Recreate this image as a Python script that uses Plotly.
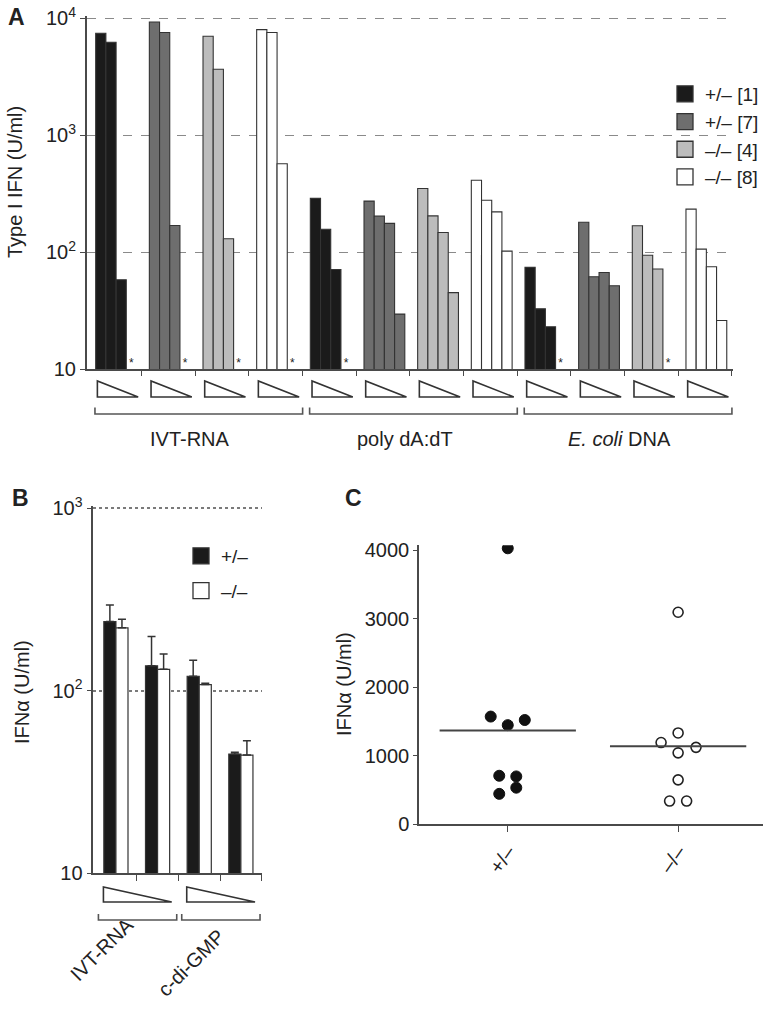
import plotly.graph_objects as go
import numpy as np

# ---------------- DATA ----------------
# Panel A: Type I IFN (U/ml); 3 stimuli x 4 mice, 4 decreasing doses each; None = not detected (*)
a_stimuli = ["IVT-RNA", "poly dA:dT", "<i>E. coli</i> DNA"]
a_genotypes = ["+/\u2013 [1]", "+/\u2013 [7]", "\u2013/\u2013 [4]", "\u2013/\u2013 [8]"]
a_ivt_rna = [[7450, 6240, 58, None], [9300, 7550, 169, None], [7020, 3660, 130, None], [8000, 7550, 569, None]]
a_poly_dadt = [[288, 157, 71, None], [273, 203, 176, 29.5], [350, 204, 147, 45], [412, 278, 221, 102]]
a_ecoli_dna = [[74, 32.7, 23, None], [180, 61.5, 67, 51.5], [168, 94, 71.6, None], [233, 106, 75, 26]]
a_yticks = [10, 100, 1000, 10000]
a_yticktext = ["10", "10<sup>2</sup>", "10<sup>3</sup>", "10<sup>4</sup>"]

# Panel B: IFNa (U/ml), 2 stimuli x 2 doses
b_stimuli = ["IVT-RNA", "c-di-GMP"]
b_genotypes = ["+/\u2013", "\u2013/\u2013"]
b_het = [239, 137, 120, 45]
b_het_err = [56, 61, 27, 1]
b_ko = [221, 131, 108, 44.4]
b_ko_err = [25, 28, 2, 8.8]
b_yticks = [10, 100, 1000]
b_yticktext = ["10", "10<sup>2</sup>", "10<sup>3</sup>"]

# Panel C: IFNa (U/ml) per mouse
c_groups = ["+/\u2013", "\u2013/\u2013"]
c_het = [4025, 1571, 1446, 1521, 708, 698, 444, 534]
c_ko = [3092, 1332, 1192, 1122, 1042, 648, 339, 339]
c_yticks = [0, 1000, 2000, 3000, 4000]

# ---------------- STYLE / LAYOUT ----------------
W, H = 772, 1014
FONT = "Liberation Sans, Arial, Helvetica, sans-serif"
INK = "#333333"
AXC = "#4a4a4a"
a_colors = ["#1b1b1b", "#6e6e6e", "#bcbcbc", "#ffffff"]
dose_off = [-0.2615, -0.0714, 0.1186, 0.3088]   # bar centre offsets inside a group
a_barw = 0.19
het_off = [0, -0.1, 0, 0.1, -0.05, 0.05, -0.05, 0.05]
ko_off = [0, 0, -0.1, 0.105, 0, 0, -0.05, 0.05]

def px(x):
    return x / W

def py(y):
    return 1 - y / H

fig = go.Figure()

# ---- Panel A bars ----
a_all = [a_ivt_rna, a_poly_dadt, a_ecoli_dna]
star_x = []
for g, name in enumerate(a_genotypes):
    xs, ys = [], []
    for s in range(len(a_stimuli)):
        grp = s * 4 + g
        for d, v in enumerate(a_all[s][g]):
            xs.append(grp + dose_off[d])
            ys.append(v)
            if v is None:
                star_x.append(grp + dose_off[d])
    fig.add_trace(go.Bar(
        x=xs, y=ys, width=a_barw, name=name, xaxis="x", yaxis="y",
        marker=dict(color=a_colors[g], line=dict(color=INK, width=1.1)),
        showlegend=False))
    fig.add_trace(go.Scatter(
        x=[None], y=[None], mode="markers", name=name, xaxis="x", yaxis="y",
        marker=dict(symbol="square", size=18, color=a_colors[g], line=dict(color=INK, width=1.3)),
        legend="legend"))
fig.add_trace(go.Scatter(
    x=star_x, y=[11.0] * len(star_x), mode="text", text=["*"] * len(star_x),
    textfont=dict(size=12, color="#222", family=FONT), xaxis="x", yaxis="y",
    showlegend=False, hoverinfo="skip"))

# ---- Panel B bars ----
b_x = list(range(len(b_stimuli) * 2))
for vals, errs, col, name in [(b_het, b_het_err, "#1b1b1b", b_genotypes[0]),
                               (b_ko, b_ko_err, "#ffffff", b_genotypes[1])]:
    fig.add_trace(go.Bar(
        x=b_x, y=vals, name=name, xaxis="x2", yaxis="y2",
        marker=dict(color=col, line=dict(color=INK, width=1.2)),
        error_y=dict(type="data", symmetric=False, array=errs, arrayminus=[0] * len(errs),
                     color=INK, thickness=1.5, width=4),
        showlegend=False))
    fig.add_trace(go.Scatter(
        x=[None], y=[None], mode="markers", name=name, xaxis="x2", yaxis="y2",
        legendgroup=name,
        marker=dict(symbol="square", size=18, color=col, line=dict(color=INK, width=1.3)),
        legend="legend2"))

# ---- Panel C dots ----
fig.add_trace(go.Scatter(
    x=[0 + o for o in het_off], y=c_het, mode="markers", xaxis="x3", yaxis="y3",
    marker=dict(size=11, color="#111111", line=dict(color="#111111", width=1)),
    showlegend=False))
fig.add_trace(go.Scatter(
    x=[1 + o for o in ko_off], y=c_ko, mode="markers", xaxis="x3", yaxis="y3",
    marker=dict(size=10, color="#ffffff", line=dict(color="#222222", width=1.6)),
    showlegend=False))
for i, vals in enumerate([c_het, c_ko]):
    m = float(np.mean(vals))
    fig.add_trace(go.Scatter(
        x=[i - 0.4, i + 0.4], y=[m, m], mode="lines", xaxis="x3", yaxis="y3",
        line=dict(color="#444444", width=2), showlegend=False, hoverinfo="skip"))

# ---------------- SHAPES (dose wedges, brackets) ----------------
shapes = []

def wedge(xref, x0, x1, y0, y1):
    shapes.append(dict(type="path", xref=xref, yref="paper",
                       path=f"M {x0},{py(y0)} L {x0},{py(y1)} L {x1},{py(y1)} Z",
                       line=dict(color=INK, width=1.6), fillcolor="white"))

def bracket(xref, x0, x1, ytop, ybot):
    shapes.append(dict(type="path", xref=xref, yref="paper",
                       path=f"M {x0},{py(ytop)} L {x0},{py(ybot)} L {x1},{py(ybot)} L {x1},{py(ytop)}",
                       line=dict(color="#555555", width=1.6)))

for grp in range(12):
    wedge("x", grp - 0.325, grp + 0.435, 381, 397)
for s in range(3):
    bracket("x", 4 * s - 0.37, 4 * s + 3.5, 407.5, 414)
for s in range(2):
    wedge("x2", 2 * s - 0.30, 2 * s + 1.34, 887, 902)
    bracket("x2", 2 * s - 0.42, 2 * s + 1.46, 914, 920)

# ---------------- ANNOTATIONS ----------------
ann = []

def text(x, y, t, size=20, angle=0, bold=False, xanchor="center"):
    ann.append(dict(x=px(x), y=py(y), xref="paper", yref="paper", text=(f"<b>{t}</b>" if bold else t),
                    showarrow=False, textangle=angle, xanchor=xanchor, yanchor="middle",
                    font=dict(family=FONT, size=size, color="#222")))

text(16, 17, "A", 23, bold=True)
text(20, 498, "B", 23, bold=True)
text(353, 498, "C", 23, bold=True)
text(15, 182, "Type I IFN (U/ml)", 20, angle=-90)
text(22, 692, "IFN\u03b1 (U/ml)", 20, angle=-90)
text(344, 684, "IFN\u03b1 (U/ml)", 20, angle=-90)
for s, lab in enumerate(a_stimuli):
    cx = 88 + (4 * s + 2) * 53.66 - 5
    text(cx, 439, lab, 20)
text(102, 949, b_stimuli[0], 20, angle=-45)
text(191, 963, b_stimuli[1], 20, angle=-45)

# ---------------- AXES ----------------
tickfont = dict(family=FONT, size=20, color="#222")
common = dict(showline=True, linecolor=AXC, linewidth=1.5, ticks="outside", tickcolor=AXC,
              tickwidth=1.3, zeroline=False, fixedrange=True, automargin=False)

fig.update_layout(
    width=W, height=H, margin=dict(l=0, r=0, t=0, b=0, autoexpand=False),
    paper_bgcolor="white", plot_bgcolor="rgba(0,0,0,0)",
    font=dict(family=FONT, color="#222"),
    barmode="group", bargap=0.42, bargroupgap=0,
    shapes=shapes, annotations=ann,
    xaxis=dict(domain=[px(86.7), px(733)], range=[-0.524, 11.52], tickvals=[k + 0.5 for k in range(12)],
               showticklabels=False, ticklen=5, showgrid=False, anchor="y", **common),
    yaxis=dict(domain=[py(369), py(16.3)], type="log", range=[1, 4.017], tickvals=a_yticks,
               ticktext=a_yticktext, tickfont=tickfont, ticklen=5, showgrid=True,
               gridcolor="#8a8a8a", griddash="dash", gridwidth=1.2, anchor="x", **common),
    xaxis2=dict(domain=[px(93.3), px(261.7)], range=[-0.543, 3.5], tickvals=[0.5, 1.5, 2.5, 3.5],
                showticklabels=False, ticklen=6, showgrid=False, anchor="y2", **common),
    yaxis2=dict(domain=[py(873.3), py(506.1)], type="log", range=[1, 3.011], tickvals=b_yticks,
                ticktext=b_yticktext, tickfont=tickfont, ticklen=5, showgrid=True,
                gridcolor="#7a7a7a", griddash="dot", gridwidth=1.5, anchor="x2", **common),
    xaxis3=dict(domain=[px(419), px(763.3)], range=[-0.521, 1.5], tickvals=[0, 1], ticktext=c_groups,
                tickangle=-55, tickfont=tickfont, ticklen=6, showgrid=False, anchor="y3", **common),
    yaxis3=dict(domain=[py(824.3), py(545.2)], range=[0, 4070], tickvals=c_yticks, tickfont=tickfont,
                ticklen=4, showgrid=False, anchor="x3", **common),
    legend=dict(x=px(665), y=py(75), xanchor="left", yanchor="top", bgcolor="rgba(0,0,0,0)",
                font=dict(family=FONT, size=19, color="#222"), itemclick=False, tracegroupgap=0),
    legend2=dict(x=px(181), y=py(537), xanchor="left", yanchor="top", bgcolor="rgba(0,0,0,0)",
                 font=dict(family=FONT, size=19, color="#222"), tracegroupgap=7, itemclick=False),
)

fig.write_html("out.html", config={"displayModeBar": False},
               post_script="document.body.style.margin='0px';")
